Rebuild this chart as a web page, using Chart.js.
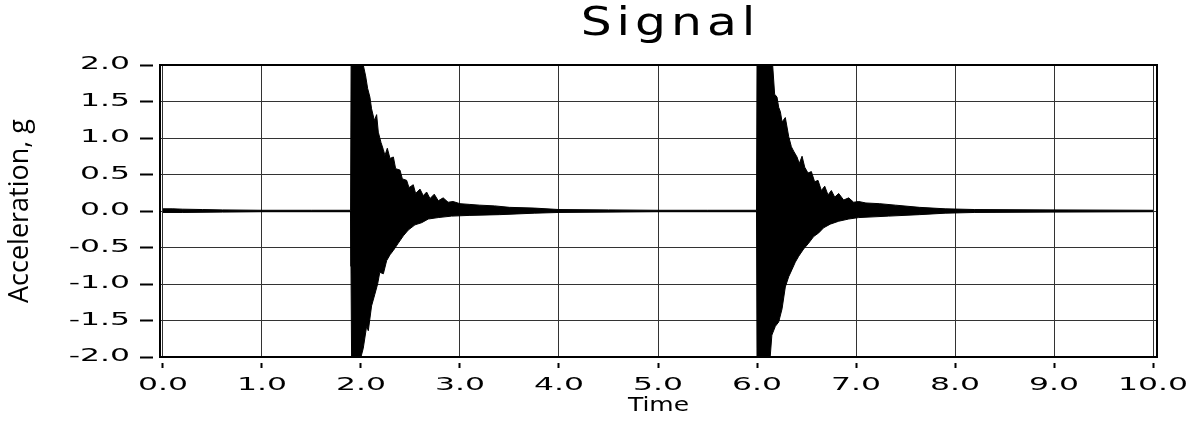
<!DOCTYPE html>
<html>
<head>
<meta charset="utf-8">
<title>Signal</title>
<script src="https://cdn.jsdelivr.net/npm/chart.js@4.4.1/dist/chart.umd.min.js"></script>
<style>
  html, body { margin:0; padding:0; background:#fff; }
  #wrap { width:1204px; height:426px; }
</style>
</head>
<body>
<div id="wrap"><canvas id="signal" width="1204" height="426"></canvas></div>
<script>
// ===================================================
// DATA
// ===================================================
const TITLE = 'Signal';
const X_TITLE = 'Time';
const Y_TITLE = 'Acceleration, g';
const xTicks = [0, 1, 2, 3, 4, 5, 6, 7, 8, 9, 10];
const yTicks = [-2, -1.5, -1, -0.5, 0, 0.5, 1, 1.5, 2];

// envelope of the trace: positive peaks...
const upperTime = [
  0.00, 0.10, 0.20, 0.40, 0.60, 1.00, 1.50, 1.895,
  1.900, 2.023, 2.047, 2.067, 2.090, 2.107, 2.135, 2.158, 2.175, 2.202, 2.226, 2.242,
  2.266, 2.293, 2.327, 2.350, 2.394, 2.418, 2.461, 2.485, 2.528, 2.552, 2.596, 2.629,
  2.663, 2.697, 2.740, 2.781, 2.830, 2.880, 2.930, 3.00, 3.10, 3.20, 3.35, 3.50, 3.75,
  4.00, 4.50, 5.00, 5.50, 5.995,
  6.000, 6.158, 6.178, 6.202, 6.219, 6.236, 6.253, 6.286, 6.320, 6.347, 6.370, 6.404,
  6.427, 6.455, 6.482, 6.515, 6.549, 6.582, 6.616, 6.650, 6.684, 6.717, 6.751, 6.785,
  6.825, 6.875, 6.926, 6.976, 7.027, 7.10, 7.24, 7.40, 7.64, 7.90, 8.20, 9.00, 10.00
];
const upperAcc = [
  0.03, 0.03, 0.025, 0.02, 0.015, 0.01, 0.01, 0.01,
  2.00, 2.00, 1.85, 1.68, 1.56, 1.40, 1.24, 1.32, 1.08, 0.94, 0.84, 0.76,
  0.86, 0.72, 0.74, 0.58, 0.56, 0.44, 0.42, 0.32, 0.36, 0.24, 0.30, 0.21,
  0.26, 0.17, 0.23, 0.14, 0.18, 0.12, 0.13, 0.10, 0.09, 0.08, 0.07, 0.05, 0.04,
  0.02, 0.015, 0.01, 0.01, 0.01,
  2.00, 2.00, 1.60, 1.56, 1.42, 1.36, 1.22, 1.28, 1.02, 0.88, 0.82, 0.74,
  0.65, 0.75, 0.60, 0.52, 0.54, 0.40, 0.42, 0.28, 0.34, 0.22, 0.28, 0.19,
  0.24, 0.15, 0.18, 0.12, 0.13, 0.11, 0.10, 0.08, 0.05, 0.03, 0.02, 0.015, 0.01
];

// ...and negative troughs
const lowerTime = [
  0.00, 0.20, 0.60, 1.00, 1.895,
  1.899, 1.905, 2.000, 2.023, 2.057, 2.074, 2.107, 2.140, 2.168, 2.190, 2.226, 2.259,
  2.293, 2.327, 2.377, 2.428, 2.478, 2.545, 2.613, 2.680, 2.780, 2.915, 3.10, 3.40,
  3.75, 4.00, 5.00, 5.995,
  6.000, 6.055, 6.057, 6.060, 6.133, 6.150, 6.185, 6.219, 6.253, 6.286, 6.320, 6.354,
  6.387, 6.421, 6.471, 6.522, 6.572, 6.623, 6.673, 6.740, 6.825, 6.926, 7.027, 7.33,
  7.64, 7.90, 8.20, 9.00, 10.00
];
const lowerAcc = [
  -0.02, -0.02, -0.015, -0.01, -0.01,
  -0.76, -2.00, -2.00, -1.88, -1.58, -1.64, -1.30, -1.14, -1.00, -0.84, -0.86, -0.68,
  -0.60, -0.54, -0.44, -0.34, -0.26, -0.19, -0.16, -0.11, -0.09, -0.07, -0.06, -0.05,
  -0.03, -0.02, -0.01, -0.01,
  -2.00, -2.00, -1.25, -2.00, -2.00, -1.70, -1.58, -1.52, -1.34, -1.04, -0.90, -0.80,
  -0.70, -0.62, -0.52, -0.44, -0.35, -0.30, -0.23, -0.18, -0.14, -0.11, -0.09, -0.07,
  -0.05, -0.03, -0.02, -0.015, -0.01
];

// ===================================================
// TEXT SHAPING
// the original prints its tick numbers very wide and spaces the title out
// ===================================================
const canvas = document.getElementById('signal');
const ctx = canvas.getContext('2d');
const plainFillText = ctx.fillText.bind(ctx);
const textStretch = text => {
  if (/^-?\d+\.\d$/.test(text)) return 1.85;
  if (text === TITLE) return 1.25;
  if (text === X_TITLE) return 1.25;
  return 1;
};
ctx.fillText = function (text, x, y, maxWidth) {
  const sx = textStretch(text);
  if (sx === 1) return plainFillText(text, x, y, maxWidth);
  ctx.save();
  if (text === TITLE) { ctx.letterSpacing = '4px'; x += 12; }
  ctx.translate(x, y);
  ctx.scale(sx, 1);
  plainFillText(text, 0, 0);
  ctx.restore();
};

// ===================================================
// CHART
// ===================================================
const toPoints = (ts, vs) => ts.map((t, i) => ({x: t, y: vs[i]}));
const tickFont = {family: 'DejaVu Sans', size: 17};
const traceStyle = {
  borderColor: '#000', backgroundColor: '#000', borderWidth: 1,
  pointRadius: 0, tension: 0, fill: 'origin'
};

new Chart(ctx, {
  type: 'line',
  data: {
    datasets: [
      {label: 'peaks', data: toPoints(upperTime, upperAcc), ...traceStyle},
      {label: 'troughs', data: toPoints(lowerTime, lowerAcc), ...traceStyle},
    ]
  },
  options: {
    responsive: false, animation: false, devicePixelRatio: 1,
    layout: {padding: {left: 0, right: 47, top: 0, bottom: 0}},
    plugins: {
      legend: {display: false},
      tooltip: {enabled: false},
      title: {
        display: true, text: TITLE, fullSize: false, color: '#000',
        font: {family: 'DejaVu Sans', size: 39, weight: 'normal'},
        padding: {top: 1, bottom: 17.2}
      }
    },
    scales: {
      x: {
        type: 'linear', min: -0.03, max: 10.04,
        afterBuildTicks: s => { s.ticks = xTicks.map(v => ({value: v})); },
        afterFit: s => { s.height = 69; },
        ticks: {callback: v => v.toFixed(1), font: tickFont, color: '#000', padding: 7, maxRotation: 0, autoSkip: false},
        grid: {color: '#333', lineWidth: 1, tickLength: 11, tickColor: '#000', tickWidth: 2, tickBorderDash: [0, 5, 6, 40]},
        border: {color: '#000', width: 2},
        title: {display: true, text: X_TITLE, color: '#000', font: {family: 'DejaVu Sans', size: 20}, padding: {top: 0, bottom: 8}}
      },
      y: {
        type: 'linear', min: -2, max: 2,
        afterBuildTicks: s => { s.ticks = yTicks.map(v => ({value: v})); },
        afterFit: s => { s.width = 160; },
        ticks: {callback: v => v.toFixed(1), font: tickFont, color: '#000', padding: 10},
        grid: {color: '#333', lineWidth: 1, tickLength: 20, tickColor: '#000', tickWidth: 2, tickBorderDash: [13, 40]},
        border: {color: '#000', width: 2},
        title: {display: true, text: Y_TITLE, color: '#000', font: {family: 'Open Sans', size: 27}, padding: {top: 4, bottom: 0}}
      },
      // frame on the top and right side
      x2: {
        type: 'linear', position: 'top', min: -0.03, max: 10.04,
        afterFit: s => { s.height = 0; },
        ticks: {display: false}, grid: {display: false},
        border: {color: '#000', width: 2}
      },
      y2: {
        type: 'linear', position: 'right', min: -2, max: 2,
        afterFit: s => { s.width = 0; },
        ticks: {display: false}, grid: {display: false},
        border: {color: '#000', width: 2}
      }
    }
  }
});
</script>
</body>
</html>
